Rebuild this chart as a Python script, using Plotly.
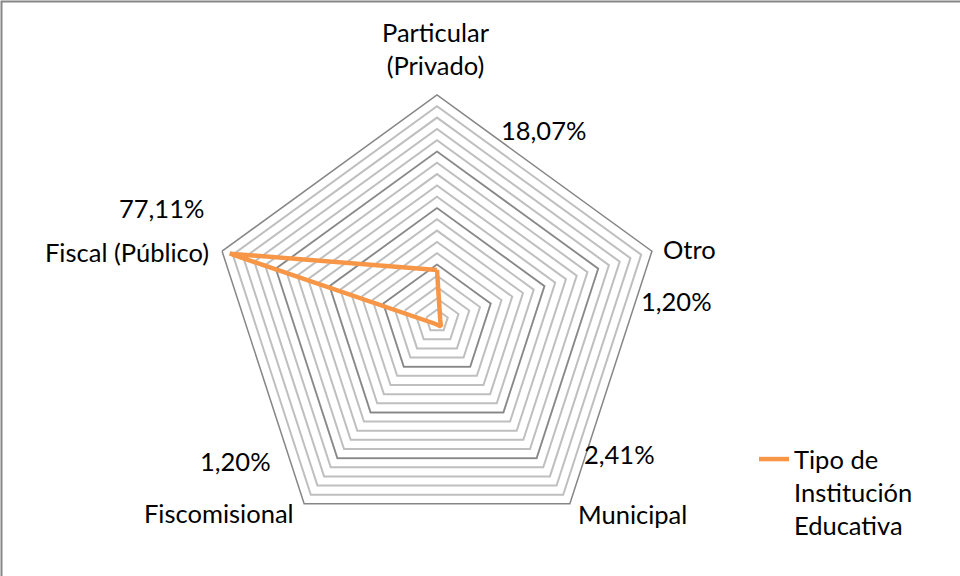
import plotly.graph_objects as go

# ---- data ----
categories = ["Particular (Privado)", "Otro", "Municipal", "Fiscomisional", "Fiscal (Público)"]
category_labels = ["Particular<br>(Privado)", "Otro", "Municipal", "Fiscomisional", "Fiscal (Público)"]
values = [0.1807, 0.0120, 0.0241, 0.0120, 0.7711]
series_name = "Tipo de<br>Institución<br>Educativa"
major_levels = [0.2, 0.4, 0.6]

W, H = 960, 576
FONT = "Lato"
FS = 25.5
ORANGE = "#F79646"
MINOR = "#BFBFBF"
MAJOR = "#868686"

cx, cy, R = 437, 321, 226


def px(x):
    return x / W


def py(y):
    return 1 - y / H


fig = go.Figure()

theta_closed = categories + [categories[0]]
for lv in major_levels:
    fig.add_trace(go.Scatterpolar(
        r=[lv] * len(theta_closed), theta=theta_closed, mode="lines",
        line=dict(color=MAJOR, width=1.5), hoverinfo="skip", showlegend=False))

fig.add_trace(go.Scatterpolar(
    r=values + [values[0]], theta=theta_closed, mode="lines",
    line=dict(color=ORANGE, width=4.5), name=series_name, showlegend=True))

fig.update_layout(
    width=W, height=H,
    margin=dict(l=0, r=0, t=0, b=0),
    paper_bgcolor="white",
    font=dict(family=FONT, size=FS, color="#000000"),
    polar=dict(
        domain=dict(x=[px(cx - R), px(cx + R)], y=[py(cy + R), py(cy - R)]),
        bgcolor="white",
        gridshape="linear",
        radialaxis=dict(range=[0, 0.8], dtick=0.04, showticklabels=False, ticks="",
                        showline=False, gridcolor=MINOR, gridwidth=1.5),
        angularaxis=dict(type="category", categoryarray=categories, direction="clockwise",
                         rotation=90, showgrid=False, showticklabels=False, ticks="",
                         showline=True, linecolor=MAJOR, linewidth=1.5),
    ),
    legend=dict(x=px(754), y=py(436), xanchor="left", yanchor="top", valign="top",
                font=dict(family=FONT, size=FS), bgcolor="rgba(0,0,0,0)", tracegroupgap=0),
    showlegend=True,
)

# category labels
cat_pos = [
    (436, 49, "center"),
    (661, 249, "left"),
    (576, 514, "left"),
    (296, 513, "right"),
    (211, 252, "right"),
]
for lab, (x, y, anc) in zip(category_labels, cat_pos):
    fig.add_annotation(x=px(x), y=py(y), xref="paper", yref="paper", text=lab,
                       showarrow=False, xanchor=anc, yanchor="middle",
                       font=dict(family=FONT, size=FS))

# data labels
val_pos = [
    (499, 130, "left"),
    (639, 301, "left"),
    (582, 454, "left"),
    (273, 461, "right"),
    (206, 208, "right"),
]
for v, (x, y, anc) in zip(values, val_pos):
    txt = f"{v * 100:.2f}%".replace(".", ",")
    fig.add_annotation(x=px(x), y=py(y), xref="paper", yref="paper", text=txt,
                       showarrow=False, xanchor=anc, yanchor="middle",
                       font=dict(family=FONT, size=FS))

# chart border (only top and left edges fall inside the picture)
fig.add_shape(type="rect", xref="paper", yref="paper",
              x0=px(1.5), x1=px(W + 20), y0=py(H + 20), y1=py(1.5),
              line=dict(color=MAJOR, width=2))

fig.write_html("out.html",
               config={"displayModeBar": False},
               post_script="document.body.style.margin='0';document.body.style.overflow='hidden';")
